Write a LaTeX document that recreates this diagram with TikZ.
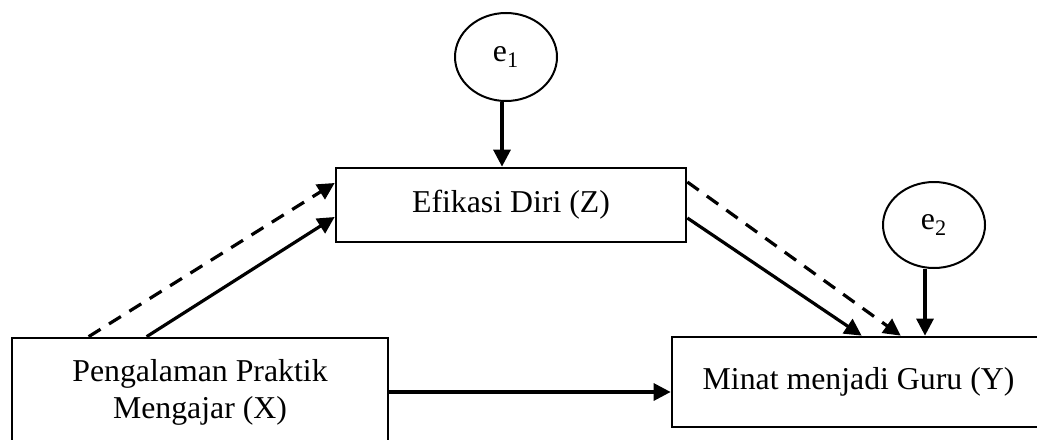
\documentclass[tikz,border=0pt]{standalone}
\usepackage{fontspec}
\setmainfont{Liberation Serif}
\usetikzlibrary{arrows.meta, calc, shapes.geometric}

\begin{document}
\begin{tikzpicture}[x=0.5pt, y=-0.5pt,
    var/.style={draw, line width=1.35pt, align=center, inner sep=0pt,
      font=\fontsize{15.9}{18.5}\selectfont},
    err/.style={draw, ellipse, line width=1pt, inner sep=0pt,
      minimum width=51pt, minimum height=44pt,
      font=\fontsize{15.9}{18.5}\selectfont},
    path/.style={line width=1.6pt, -{Triangle[length=8.5pt,width=8.5pt]}},
    indirect/.style={path, dash pattern=on 7pt off 5pt}]

  \useasboundingbox (0,0) rectangle (1037,439);
  \clip (0,0) rectangle (1037,439);

     % -------------------------
     % Variables
     % -------------------------
      \node[var, minimum width=175pt, minimum height=37pt] (Z) at (511,205) {Efikasi Diri (Z)};
      \node[var, minimum width=188pt, minimum height=54pt] (X) at (200,392) {Pengalaman Praktik\\Mengajar (X)};
      \node[var, minimum width=186.5pt, minimum height=45pt] (Y) at (858.5,382) {Minat menjadi Guru (Y)};

      % Error terms
      \node[err] (e1) at (506,57) {e\textsubscript{1}};
      \node[err, minimum height=43pt] (e2) at (934,225) {e\textsubscript{2}};

      % Feet of the error arrows
      \coordinate (e1foot) at ($(e1.south)+(-4,0)$);
      \coordinate (e2foot) at ($(e2.south)+(-9,0)$);

      % Error arrows
      \draw[path] (e1foot) -- (e1foot |- Z.north);
      \draw[path] (e2foot) -- (e2foot |- Y.north);

      % Direct paths
      \draw[path] ($(X.north west)+(136,0)$) -- ($(Z.west)+(0,12)$);
      \draw[path] ($(Z.east)+(0,13)$) -- ($(Y.north west)+(191,0)$);
      \draw[path] (X.east) -- (X.east -| Y.west);

      % Indirect (dashed) paths
      \draw[indirect] ($(X.north west)+(78,0)$) -- ($(Z.west)+(0,-22)$);
      \draw[indirect] ($(Z.east)+(0,-23)$) -- ($(Y.north west)+(230,0)$);
\end{tikzpicture}
\end{document}
